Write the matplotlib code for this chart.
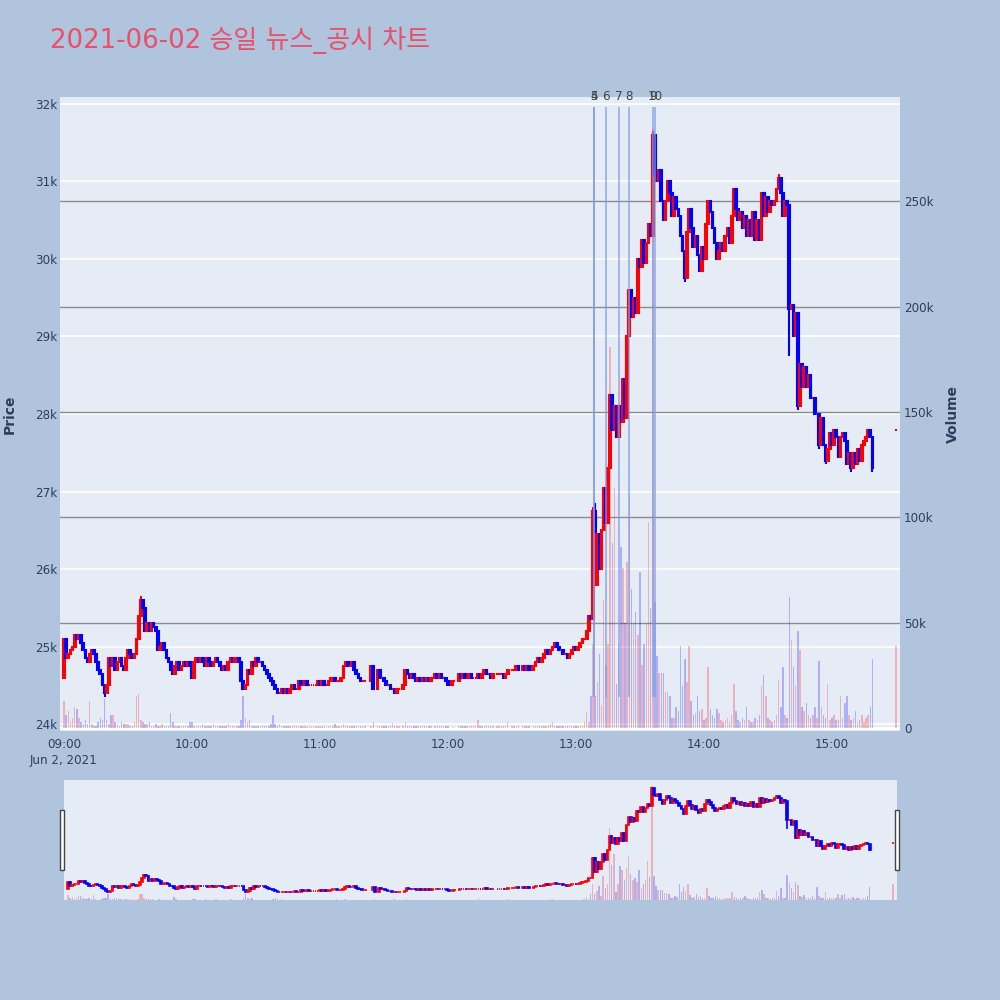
import numpy as np
import pandas as pd
import matplotlib
matplotlib.use('Agg')
import matplotlib.pyplot as plt
import matplotlib.dates as mdates
from matplotlib.patches import Rectangle

plt.rcParams['font.family'] = ['DejaVu Sans', 'Noto Sans CJK KR']

title = '2021-06-02 승일 뉴스_공시 차트'

# 1-minute closes 09:00 .. 15:19 (None = no trade in that minute)
closes = [
    25100, 24850, 24900, 24950, 25000, 25150, 25100, 25150, 25050, 24950,
    24850, 24800, 24900, 24950, 24900, 24800, 24700, 24650, 24500, 24400,
    24500, 24850, 24750, 24850, 24700, 24800, 24850, 24750, 24700, 24850,
    24950, 24900, 24850, 24900, 25100, 25400, 25600, 25500, 25200, 25300,
    25200, 25300, 25250, 25200, 24950, 25000, 25050, 24950, 24850, 24800,
    24700, 24650, 24750, 24800, 24700, 24750, 24800, 24750, 24800, 24750,
    24600, 24800, 24850, 24800, 24850, 24800, 24750, 24850, 24800, 24750,
    24800, 24850, 24800, 24750, 24700, 24750, 24700, 24800, 24850, 24800,
    24850, 24850, 24800, 24550, 24450, 24500, 24700, 24650, 24800, 24750,
    24850, 24800, 24800, 24750, 24700, 24650, 24600, 24550, 24500, 24450,
    24400, 24400, 24450, 24400, 24450, 24400, 24450, 24500, 24450, 24450,
    24550, 24500, 24500, 24550, 24500, 24500, 24500, 24500, 24500, 24550,
    24500, 24550, 24500, 24500, 24550, 24600, 24600, 24550, 24550, 24550,
    24600, 24750, 24800, 24750, 24750, 24800, 24700, 24650, 24600, 24550,
    24550, 24550, None, None, 24750, 24450, None, 24700, 24600, 24600,
    24550, 24500, 24500, 24450, 24450, 24400, 24450, 24450, None, 24500,
    24700, 24650, 24600, 24650, 24600, 24550, 24600, 24550, 24600, 24550,
    24600, 24550, 24600, None, 24650, 24600, 24650, 24600, 24600, 24550,
    24500, None, 24550, 24550, None, 24650, 24600, 24650, 24600, 24600,
    24650, 24600, 24600, 24600, 24650, 24600, 24650, 24700, 24650, 24650,
    24600, 24650, None, 24650, 24650, 24650, 24600, 24650, 24700, None,
    24700, 24700, 24750, 24700, None, 24750, 24700, 24750, 24700, None,
    24750, 24800, 24850, 24800, 24850, 24900, 24950, 24900, 24950, 25000,
    25050, 25000, 24950, 24950, 24900, 24900, 24850, 24900, 24950, 25000,
    24950, 25000, 25050, 25100, 25100, 25200, 25400, 25350, 26750, 25800,
    26450, 26000, 26500, 27050, 26600, 27300, 28250, 27800, 28100, 27700,
    28100, 27900, 28450, 27950, 29000, 29600, 29250, 29500, 29300, 30000,
    29900, 30250, 29950, 30200, 30450, 30300, 31600, 31100, 31000, 31150,
    30750, 30500, 30750, 31000, 30850, 30550, 30800, 30650, 30550, 30300,
    30100, 29750, 30350, 30650, 30400, 30150, 30300, 30050, 29850, 30150,
    30000, 30450, 30750, 30600, 30400, 30200, 30000, 30100, 30200, 30100,
    30300, 30400, 30200, 30550, 30900, 30650, 30500, 30600, 30400, 30550,
    30300, 30500, 30300, 30600, 30250, 30500, 30250, 30850, 30550, 30800,
    30600, 30750, 30700, 30750, 30900, 31050, 30850, 30550, 30750, 30700,
    29350, 29400, 29000, 29300, 28100, 28650, 28350, 28600, 28350, 28500,
    28200, 28200, 28000, 28000, 27600, 27950, 27600, 27400, 27550, 27750,
    27600, 27800, 27700, 27450, 27700, 27750, 27650, 27350, 27500, 27300,
    27500, 27350, 27550, 27400, 27600, 27650, 27700, 27800, 27700, 27300,
]
first_open = 24600
auction_open = 27800
auction_close = 27800

# volume per minute, thousands of shares
volumes = [
    13, 6, 8, 3, 5, 10, 9, 5, 3, 2,
    4, 2, 13, 2, 1, 1, 3, 5, 4, 14,
    4, 2, 6, 6, 3, 2, 1, 3, 2, 2,
    2, 1, 1, 3, 15, 16, 4, 3, 2, 2,
    3, 1, 1, 2, 1, 1, 2, 1, 1, 1,
    7, 3, 1, 1, 1, 1, 1, 1, 1, 3,
    3, 1, 1, 1, 1, 2, 1, 1, 1, 1,
    2, 1, 1, 1, 1, 1, 1, 2, 1, 1,
    1, 1, 1, 4, 15, 5, 3, 4, 1, 1,
    1, 1, 1, 1, 1, 1, 1, 2, 6, 2,
    1, 2, 1, 1, 1, 1, 1, 1, 1, 1,
    1, 1, 1, 1, 0.5, 1, 1, 1, 1, 1,
    0.5, 1, 1, 0.5, 1, 1, 1, 2, 1, 1,
    1, 2, 1, 1, 1, 1, 1, 1, 0.5, 1,
    1, 1, 0, 0, 1, 3, 0, 1, 1, 1,
    1, 1, 1, 1, 2.5, 1, 1, 1, 0, 1,
    3, 1, 1, 1, 1, 1, 1, 1, 1, 1,
    1, 1, 1, 0, 1, 1, 1, 1, 1, 1,
    1, 0, 0.5, 0.5, 0, 1, 1, 1, 1, 1,
    1, 1, 1, 1, 4, 1, 1, 1, 1, 1,
    1, 1, 0, 1, 1, 1, 1, 1, 3, 0,
    1, 1, 1, 1, 0, 1, 1, 1, 1, 0,
    1, 1, 1, 1, 1, 1, 1, 1, 2, 3,
    1, 1, 1, 1, 1, 1, 1, 1, 1, 1,
    1, 1, 1, 1, 3, 7.6, 3, 15, 40, 15,
    22, 35, 11, 61, 30, 40, 181, 88, 114, 21,
    40, 86, 76, 50, 79, 111, 66, 50, 55, 44,
    74, 30, 40, 50, 98, 57, 285, 60, 34, 26,
    26, 26, 17, 17, 15, 5, 5, 10, 8, 39,
    20, 33, 22, 39, 13, 6, 7, 15, 8, 9,
    4, 5, 29, 9, 6, 5, 9, 7, 4, 3,
    4, 5, 3, 6, 21, 8, 4, 3, 5, 4,
    10, 4, 3, 3, 5, 4, 6, 20, 25, 15,
    5, 4, 3, 4, 6, 23, 10, 29, 6, 5,
    62, 42, 29, 20, 46, 37, 10, 8, 12, 6,
    5, 6, 10, 5, 32, 10, 6, 5, 21, 4,
    5, 6, 4, 4, 15, 5, 12, 15, 6, 4,
    5, 8, 3, 4, 6, 3, 5, 6, 10, 33,
]
auction_volume = 39

# wicks beyond the bodies (minute index -> price)
wick_high = {36: 25650, 248: 26800, 249: 26850, 276: 31650, 335: 31100}
wick_low = {19: 24350, 291: 29700, 340: 28750, 344: 28050, 354: 27550,
            357: 27350, 369: 27250, 379: 27250}

news_times = ['13:08:36', '13:08:36', '13:13:54', '13:20:18', '13:25:00',
              '13:36:18', '13:37:12']
news_labels = ['4', '5', '6', '7', '8', '9', '10']

# ---- build OHLC table
times = list(pd.date_range('2021-06-02 09:00', periods=len(closes), freq='min'))
times.append(pd.Timestamp('2021-06-02 15:30'))
rows = []
prev = first_open
for i, (t, c) in enumerate(zip(times[:-1], closes)):
    if c is None:
        continue
    o = prev
    rows.append([t, o, wick_high.get(i, max(o, c)), wick_low.get(i, min(o, c)), c, volumes[i] * 1000])
    prev = c
rows.append([times[-1], auction_open, max(auction_open, auction_close),
             min(auction_open, auction_close), auction_close, auction_volume * 1000])
df = pd.DataFrame(rows, columns=['time', 'open', 'high', 'low', 'close', 'volume'])
df['x'] = mdates.date2num(df['time'])
df['up'] = df['close'] >= df['open']
df['color'] = np.where(df['up'], '#FF0000', '#0000FF')

one_min = 1 / 1440
t0 = mdates.date2num(pd.Timestamp('2021-06-02 09:00'))
xlim = (t0 - 1.9 * one_min, t0 + 391.9 * one_min)
price_lim = (23910, 32090)
vol_lim = (-1400, 299600)
vol_colors = [(1, 0, 0, 0.25) if u else (0, 0, 1, 0.25) for u in df['up']]

text_color = '#2a3f5f'
plot_bg = '#E5ECF6'
fig = plt.figure(figsize=(10, 10), dpi=100)
fig.patch.set_facecolor('#B0C4DE')


def draw_candles(ax, lw_body=1.5, lw_wick=1.5):
    ax.vlines(df['x'], df['low'], df['high'], colors=df['color'], linewidth=lw_wick, zorder=3)
    ax.bar(df['x'], (df['close'] - df['open']).abs(), bottom=df[['open', 'close']].min(axis=1),
           width=0.8 * one_min, color=df['color'], edgecolor=df['color'], linewidth=lw_body, zorder=3)


# ---- main chart
ax = fig.add_axes([0.060, 0.269, 0.840, 0.634])
axv = ax.twinx()
ax.set_zorder(axv.get_zorder() + 1)
ax.patch.set_visible(False)
axv.patch.set_visible(True)
axv.patch.set_facecolor(plot_bg)

price_ticks = np.arange(24000, 32001, 1000)
vol_ticks = np.arange(0, 250001, 50000)
for p in price_ticks:
    axv.plot(xlim, [p, p], color='white', lw=1.2, transform=ax.transData, zorder=0)
for v in vol_ticks[1:]:
    axv.axhline(v, color='#8c8c8c', lw=1.0, zorder=1)
axv.axhline(0, color='white', lw=2, zorder=1)
axv.bar(df['x'], df['volume'], width=0.7 * one_min, color=vol_colors, zorder=2)

draw_candles(ax)

for t, lab in zip(news_times, news_labels):
    xn = mdates.date2num(pd.Timestamp('2021-06-02 ' + t))
    ax.vlines(xn, 24350, 31960, color='#7f9be6', lw=1.1, alpha=0.85, zorder=4)
    ax.text(xn, 1.0, lab, transform=ax.get_xaxis_transform(), ha='center', va='center',
            fontsize=8.6, color='#444444')

ax.set_xlim(xlim)
ax.set_ylim(price_lim)
axv.set_ylim(vol_lim)
ax.set_yticks(price_ticks)
ax.set_yticklabels([f'{p // 1000}k' for p in price_ticks])
axv.set_yticks(vol_ticks)
axv.set_yticklabels(['0'] + [f'{v // 1000}k' for v in vol_ticks[1:]])
hours = [t0 + h / 24 for h in range(7)]
ax.set_xticks(hours)
ax.set_xticklabels(['09:00\nJun 2, 2021'] + [f'{9 + h:02d}:00' for h in range(1, 7)],
                   linespacing=1.35)
for a in (ax, axv):
    for s in a.spines.values():
        s.set_visible(False)
ax.tick_params(axis='both', length=0, labelsize=8.6, labelcolor=text_color)
ax.tick_params(axis='y', pad=2)
ax.tick_params(axis='x', pad=5)
axv.tick_params(axis='y', length=0, labelsize=8.6, labelcolor=text_color, pad=3)

fig.text(0.010, 0.586, 'Price', rotation=90, ha='center', va='center',
         fontsize=10, fontweight='bold', color=text_color)
fig.text(0.953, 0.586, 'Volume', rotation=90, ha='center', va='center',
         fontsize=10, fontweight='bold', color=text_color)
fig.text(0.050, 0.960, title, ha='left', va='center', fontsize=18.7, color='#E9506A')

# ---- range slider
sax = fig.add_axes([0.064, 0.100, 0.833, 0.120])
saxv = sax.twinx()
sax.set_zorder(saxv.get_zorder() + 1)
sax.patch.set_visible(False)
saxv.patch.set_visible(True)
saxv.patch.set_facecolor(plot_bg)
saxv.bar(df['x'], df['volume'], width=0.7 * one_min, color=vol_colors)
draw_candles(sax, lw_body=1.2, lw_wick=1.2)
sax.set_xlim(xlim)
sax.set_ylim(23870, 32120)
saxv.set_ylim(0, 300000)
for a in (sax, saxv):
    a.set_xticks([])
    a.set_yticks([])
    for s in a.spines.values():
        s.set_visible(False)

for hx in (0.060, 0.895):
    fig.add_artist(Rectangle((hx, 0.130), 0.004, 0.060, transform=fig.transFigure,
                             facecolor='white', edgecolor='#444444', lw=1.0))

fig.savefig('out.png', dpi=100, facecolor=fig.get_facecolor())
